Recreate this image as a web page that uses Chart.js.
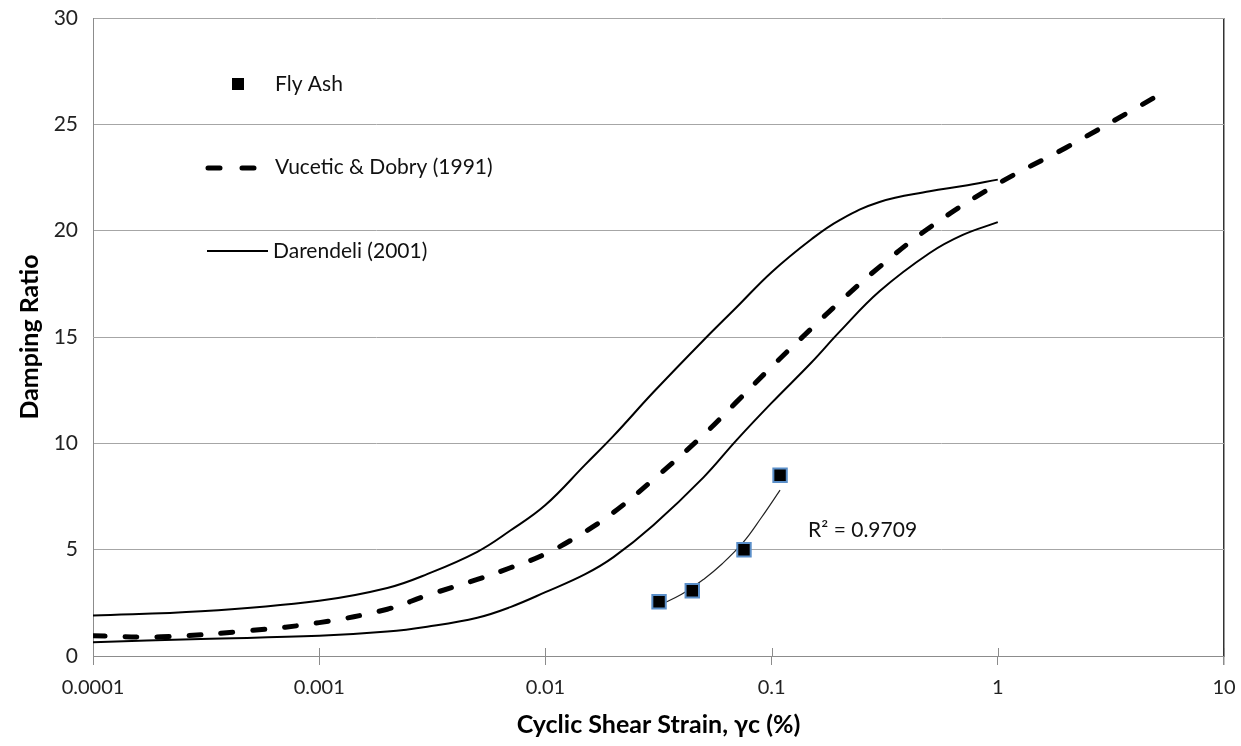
<!DOCTYPE html>
<html>
<head>
<meta charset="utf-8">
<script src="https://cdn.jsdelivr.net/npm/chart.js@4.4.1/dist/chart.umd.min.js"></script>
<style>
  body { margin: 0; background: #fff; }
  canvas { display: block; }
</style>
</head>
<body>
<canvas id="myChart" width="1241" height="746"></canvas>
<script>
// strain values (%) used for the Darendeli curves
var strain = [0.0001, 0.0003, 0.001, 0.002, 0.003, 0.005, 0.007, 0.01, 0.015, 0.02, 0.03, 0.05, 0.07, 0.1, 0.15, 0.2, 0.3, 0.5, 0.7, 1];
var darendeliUpper = [1.9, 2.1, 2.6, 3.2, 3.85, 4.9, 5.9, 7.1, 9.0, 10.35, 12.4, 14.85, 16.4, 18.05, 19.6, 20.5, 21.35, 21.85, 22.1, 22.4];
var darendeliLower = [0.65, 0.8, 0.95, 1.15, 1.38, 1.8, 2.3, 3.0, 3.85, 4.65, 6.15, 8.4, 10.15, 11.9, 13.8, 15.25, 17.15, 18.95, 19.8, 20.4];

var vuceticStrain = [0.0001, 0.0002, 0.0005, 0.001, 0.002, 0.003, 0.005, 0.007, 0.01, 0.015, 0.02, 0.03, 0.05, 0.07, 0.1, 0.15, 0.2, 0.3, 0.5, 1, 2, 5];
var vuceticDamping = [0.95, 0.9, 1.2, 1.57, 2.2, 2.85, 3.6, 4.15, 4.8, 5.85, 6.75, 8.3, 10.4, 11.95, 13.6, 15.4, 16.65, 18.3, 20.15, 22.2, 23.9, 26.3];

var flyAshStrain = [0.0318, 0.0446, 0.0755, 0.109];
var flyAshDamping = [2.55, 3.07, 5.0, 8.5];

// trendline
var trendStrain = [0.032, 0.04, 0.05, 0.06, 0.075, 0.09, 0.109];
var trendDamping = [2.4, 2.9, 3.6, 4.3, 5.35, 6.5, 7.8];

var xTicks = [0.0001, 0.001, 0.01, 0.1, 1, 10];
var yTicks = [0, 5, 10, 15, 20, 25, 30];

function pts(xs, ys) { return xs.map(function (x, i) { return { x: x, y: ys[i] }; }); }

var FONT = 'Lato, "Open Sans", sans-serif';

function noPad(scale) {
  scale.paddingTop = 0;
  scale.paddingBottom = 0;
  scale.paddingLeft = 0;
  scale.paddingRight = 0;
}

var legendPlugin = {
  id: 'legendPlugin',
  afterDatasetsDraw: function (chart) {
    var ctx = chart.ctx;
    var x = chart.scales.x, y = chart.scales.y;
    ctx.save();
    // crossing tick marks on x axis (inner part)
    ctx.strokeStyle = '#8c8c8c';
    ctx.lineWidth = 1;
    xTicks.forEach(function (v) {
      var px = Math.round(x.getPixelForValue(v)) + 0.5;
      ctx.beginPath();
      ctx.moveTo(px, chart.chartArea.bottom - 8);
      ctx.lineTo(px, chart.chartArea.bottom);
      ctx.stroke();
    });

    ctx.font = '21px ' + FONT;
    ctx.fillStyle = '#111';
    ctx.textBaseline = 'middle';
    ctx.textAlign = 'left';

    // Fly Ash
    ctx.fillStyle = '#000';
    ctx.fillRect(232, 78, 12, 12);
    ctx.fillStyle = '#111';
    ctx.fillText('Fly Ash', 275, 84);

    // Vucetic & Dobry
    ctx.strokeStyle = '#000';
    ctx.lineWidth = 5;
    ctx.lineCap = 'round';
    ctx.setLineDash([12, 22]);
    ctx.beginPath();
    ctx.moveTo(208, 168);
    ctx.lineTo(258, 168);
    ctx.stroke();
    ctx.setLineDash([]);
    ctx.fillText('Vucetic & Dobry (1991)', 275, 167);

    // Darendeli
    ctx.lineWidth = 2;
    ctx.lineCap = 'butt';
    ctx.beginPath();
    ctx.moveTo(207, 251);
    ctx.lineTo(268, 251);
    ctx.stroke();
    ctx.fillText('Darendeli (2001)', 273, 251);

    // R squared label
    var rx = x.getPixelForValue(0.145), ry = y.getPixelForValue(5.9);
    ctx.fillText('R\u00b2 = 0.9709', rx, ry);
    ctx.restore();
  }
};

var ctx = document.getElementById('myChart').getContext('2d');
var chart = new Chart(ctx, {
  type: 'scatter',
  data: {
    datasets: [
      {
        label: 'Fly Ash',
        data: pts(flyAshStrain, flyAshDamping),
        pointStyle: 'rect',
        pointRadius: 9.5,
        backgroundColor: '#000',
        borderColor: '#5b8fc9',
        borderWidth: 2,
        showLine: false,
        order: 0
      },
      {
        label: 'trend',
        data: pts(trendStrain, trendDamping),
        showLine: true,
        borderColor: '#222',
        borderWidth: 1.2,
        pointRadius: 0,
        tension: 0.4,
        order: 1
      },
      {
        label: 'Vucetic & Dobry (1991)',
        data: pts(vuceticStrain, vuceticDamping),
        showLine: true,
        borderColor: '#000',
        borderWidth: 5,
        borderDash: [12, 20],
        borderCapStyle: 'round',
        pointRadius: 0,
        tension: 0.4,
        order: 2
      },
      {
        label: 'Darendeli (2001)',
        data: pts(strain, darendeliUpper),
        showLine: true,
        borderColor: '#000',
        borderWidth: 2,
        pointRadius: 0,
        tension: 0.4,
        order: 3
      },
      {
        label: 'Darendeli (2001) lower',
        data: pts(strain, darendeliLower),
        showLine: true,
        borderColor: '#000',
        borderWidth: 2,
        pointRadius: 0,
        tension: 0.4,
        order: 3
      }
    ]
  },
  options: {
    responsive: false,
    animation: false,
    layout: { padding: { left: 0, right: 17, top: 18, bottom: 0 } },
    plugins: {
      legend: { display: false },
      tooltip: { enabled: false }
    },
    scales: {
      x: {
        type: 'logarithmic',
        min: 0.0001,
        max: 10,
        afterBuildTicks: function (scale) {
          scale.ticks = xTicks.map(function (v) { return { value: v, major: true }; });
        },
        afterFit: function (scale) { scale.height = 90; noPad(scale); },
        ticks: {
          autoSkip: false,
          maxRotation: 0,
          padding: 11,
          color: '#222',
          font: { family: FONT, size: 20 },
          callback: function (v) { return String(v); }
        },
        grid: {
          drawOnChartArea: true,
          tickLength: 9,
          tickColor: '#8c8c8c',
          lineWidth: function (c) { return c.tick && c.tick.value === 10 ? 1.5 : 1; },
          color: function (c) { return c.tick && c.tick.value === 10 ? '#333' : 'rgba(0,0,0,0)'; }
        },
        border: { color: '#8c8c8c', width: 1 },
        title: {
          display: true,
          text: 'Cyclic Shear Strain, \u03b3c (%)',
          color: '#000',
          font: { family: FONT, size: 25, weight: 'bold' },
          padding: { top: 0, bottom: 6 }
        }
      },
      y: {
        min: 0,
        max: 30,
        afterBuildTicks: function (scale) {
          scale.ticks = yTicks.map(function (v) { return { value: v }; });
        },
        afterFit: function (scale) { scale.width = 93; noPad(scale); },
        ticks: {
          padding: 15,
          color: '#222',
          font: { family: FONT, size: 21 }
        },
        grid: {
          color: '#a6a6a6',
          tickLength: 0,
          lineWidth: 1
        },
        border: { color: '#8c8c8c', width: 1 },
        title: {
          display: true,
          text: 'Damping Ratio',
          color: '#000',
          font: { family: FONT, size: 25, weight: 'bold' },
          padding: { top: 15, bottom: 0 }
        }
      }
    }
  },
  plugins: [legendPlugin]
});
</script>
</body>
</html>
